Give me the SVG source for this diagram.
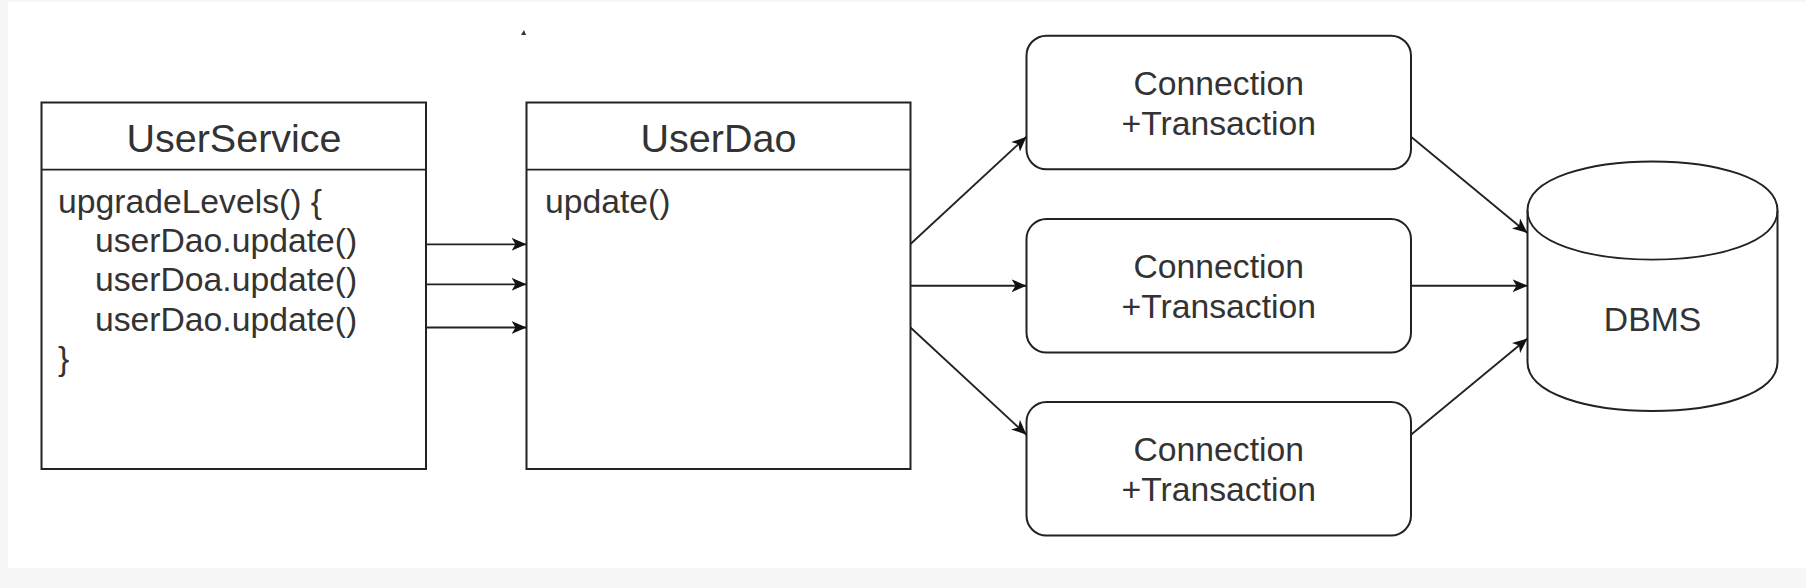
<svg xmlns="http://www.w3.org/2000/svg" width="1806" height="588" viewBox="0 0 1806 588">
<defs>
<style>
.box{fill:#fff;stroke:#222;stroke-width:2}
.ln{fill:none;stroke:#222;stroke-width:1.8}
.t{font-family:"Liberation Sans",Arial,sans-serif;fill:#333}
.title{font-size:39.5px;text-anchor:middle}
.body{font-size:33.7px}
.mid{font-size:33.7px;text-anchor:middle}
</style>
<marker id="arr" viewBox="0 0 15 13" refX="15" refY="6.5" markerWidth="15" markerHeight="13" markerUnits="userSpaceOnUse" orient="auto">
<path d="M0,0 L15,6.5 L0,13 L4,6.5 Z" fill="#111"/>
</marker>
</defs>
<rect x="0" y="0" width="1806" height="588" fill="#f7f7f7"/>
<rect x="8" y="2" width="1798" height="566" fill="#ffffff"/>
<path d="M521,35 L524,30 L526,35 Z" fill="#333"/>

<g id="UserService">
<rect class="box" x="41.5" y="102.5" width="384.5" height="366.5"/>
<line class="ln" x1="41.5" y1="169.7" x2="426" y2="169.7"/>
<text class="t title" x="234" y="152">UserService</text>
<text class="t body" x="58" y="213">upgradeLevels() {</text>
<text class="t body" x="95" y="252">userDao.update()</text>
<text class="t body" x="95" y="291">userDoa.update()</text>
<text class="t body" x="95" y="331">userDao.update()</text>
<text class="t body" x="58" y="370">}</text>
</g>

<g id="UserDao">
<rect class="box" x="526.5" y="102.5" width="384" height="366.5"/>
<line class="ln" x1="526.5" y1="169.7" x2="910.5" y2="169.7"/>
<text class="t title" x="718.5" y="152">UserDao</text>
<text class="t body" x="545" y="213">update()</text>
</g>

<g id="Conn1">
<rect class="box" x="1026.5" y="35.7" width="384.5" height="133.6" rx="20" ry="20"/>
<text class="t mid" x="1218.75" y="95">Connection</text>
<text class="t mid" x="1218.75" y="135">+Transaction</text>
</g>
<g id="Conn2">
<rect class="box" x="1026.5" y="219" width="384.5" height="133.6" rx="20" ry="20"/>
<text class="t mid" x="1218.75" y="278">Connection</text>
<text class="t mid" x="1218.75" y="318">+Transaction</text>
</g>
<g id="Conn3">
<rect class="box" x="1026.5" y="402" width="384.5" height="133.6" rx="20" ry="20"/>
<text class="t mid" x="1218.75" y="461">Connection</text>
<text class="t mid" x="1218.75" y="501">+Transaction</text>
</g>

<g id="DBMS">
<path class="box" d="M1527.5,210.5 C1527.5,145 1777.5,145 1777.5,210.5 L1777.5,362 C1777.5,427.3 1527.5,427.3 1527.5,362 Z"/>
<path class="ln" d="M1527.5,210.5 C1527.5,276 1777.5,276 1777.5,210.5"/>
<text class="t mid" x="1652.5" y="331">DBMS</text>
</g>

<g id="connectors">
<line class="ln" x1="426" y1="244.3" x2="526.5" y2="244.3" marker-end="url(#arr)"/>
<line class="ln" x1="426" y1="284.3" x2="526.5" y2="284.3" marker-end="url(#arr)"/>
<line class="ln" x1="426" y1="327.5" x2="526.5" y2="327.5" marker-end="url(#arr)"/>
<line class="ln" x1="910.5" y1="244" x2="1026.5" y2="136.7" marker-end="url(#arr)"/>
<line class="ln" x1="910.5" y1="285.75" x2="1026.5" y2="285.75" marker-end="url(#arr)"/>
<line class="ln" x1="910.5" y1="327.5" x2="1026.5" y2="434.8" marker-end="url(#arr)"/>
<line class="ln" x1="1411" y1="136.7" x2="1527.5" y2="233" marker-end="url(#arr)"/>
<line class="ln" x1="1411" y1="285.75" x2="1527.5" y2="285.75" marker-end="url(#arr)"/>
<line class="ln" x1="1411" y1="434.8" x2="1527.5" y2="338.5" marker-end="url(#arr)"/>
</g>
</svg>
